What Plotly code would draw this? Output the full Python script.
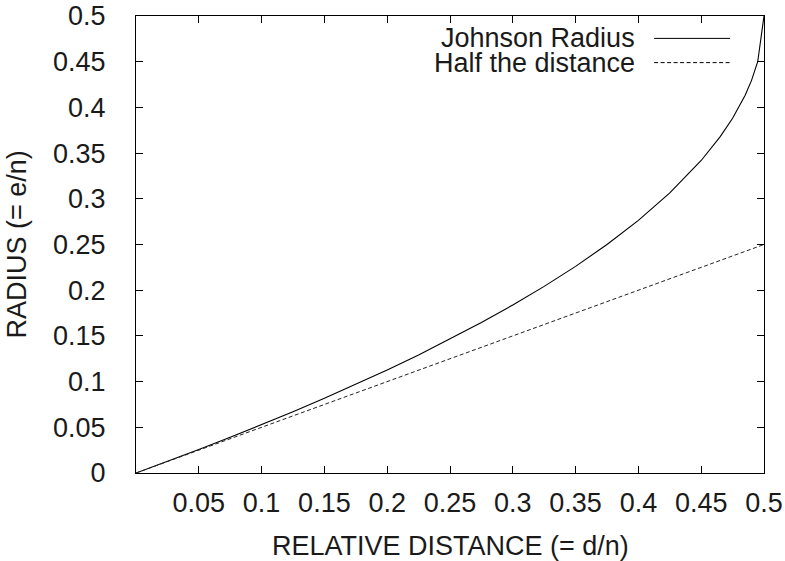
import plotly.graph_objects as go

# Data
rel_distance = [0, 0.025, 0.05, 0.075, 0.1, 0.125, 0.15, 0.175, 0.2, 0.225, 0.25,
                0.275, 0.3, 0.325, 0.35, 0.375, 0.4, 0.425, 0.45, 0.465, 0.475,
                0.485, 0.49, 0.495, 0.5]
johnson_radius = [0, 0.0127, 0.0257, 0.039, 0.0528, 0.067, 0.0817, 0.0969, 0.1127,
                  0.1292, 0.1465, 0.1646, 0.1838, 0.2042, 0.2261, 0.25, 0.2764,
                  0.3064, 0.3419, 0.3677, 0.3882, 0.4134, 0.4293, 0.45, 0.5]
half_x = [0, 0.5]
half_y = [0, 0.25]

x_ticks = [0.05, 0.1, 0.15, 0.2, 0.25, 0.3, 0.35, 0.4, 0.45, 0.5]
x_ticktext = ["0.05", "0.1", "0.15", "0.2", "0.25", "0.3", "0.35", "0.4", "0.45", "0.5"]
y_ticks = [0, 0.05, 0.1, 0.15, 0.2, 0.25, 0.3, 0.35, 0.4, 0.45, 0.5]
y_ticktext = ["0", "0.05", "0.1", "0.15", "0.2", "0.25", "0.3", "0.35", "0.4", "0.45", "0.5"]

series_names = ["Johnson Radius", "Half the distance"]

FONT = "Liberation Sans, Arial, Helvetica, sans-serif"
TXT = "#1a1a1a"
FS = 27

fig = go.Figure()
fig.add_trace(go.Scatter(x=rel_distance, y=johnson_radius, mode="lines",
                         line=dict(color="black", width=1.1), name=series_names[0],
                         showlegend=False))
fig.add_trace(go.Scatter(x=half_x, y=half_y, mode="lines",
                         line=dict(color="#222222", width=1, dash="4px,2.5px"),
                         name=series_names[1], showlegend=False))

axis_common = dict(showline=True, linecolor="black", linewidth=1.2, mirror="ticks",
                   ticks="inside", ticklen=7, tickwidth=1, tickcolor="black",
                   showgrid=False, zeroline=False, automargin=False,
                   tickfont=dict(family=FONT, size=FS, color=TXT))

fig.update_xaxes(range=[0, 0.5], tickmode="array", tickvals=x_ticks, ticktext=x_ticktext,
                 ticklabelstandoff=5, **axis_common)
fig.update_yaxes(range=[0, 0.5], tickmode="array", tickvals=y_ticks, ticktext=y_ticktext,
                 ticklabelstandoff=24, **axis_common)

annotations = [
    dict(text="RELATIVE DISTANCE (= d/n)", xref="paper", yref="paper", x=0.5, y=0,
         xanchor="center", yanchor="middle", yshift=-73, showarrow=False,
         font=dict(family=FONT, size=FS, color=TXT)),
    dict(text="RADIUS (= e/n)", xref="paper", yref="paper", x=0, y=0.5,
         xanchor="center", yanchor="middle", xshift=-120, textangle=-90, showarrow=False,
         font=dict(family=FONT, size=FS, color=TXT)),
]
legend_y = [0.951, 0.898]
legend_dash = ["solid", "4px,2.5px"]
shapes = []
for name, ly, dsh in zip(series_names, legend_y, legend_dash):
    annotations.append(dict(text=name, xref="paper", yref="paper", x=0.797, y=ly,
                            xanchor="right", yanchor="middle", showarrow=False,
                            font=dict(family=FONT, size=FS, color=TXT)))
    shapes.append(dict(type="line", xref="paper", yref="paper", x0=0.825, x1=0.946,
                       y0=ly, y1=ly, line=dict(color="black", width=1, dash=dsh)))

fig.update_layout(width=785, height=561, margin=dict(l=136, r=21, t=16, b=88, autoexpand=False),
                  paper_bgcolor="white", plot_bgcolor="white",
                  annotations=annotations, shapes=shapes, showlegend=False,
                  font=dict(family=FONT, size=FS, color=TXT))

fig.write_html("out.html", config={"displayModeBar": False},
               post_script="document.body.style.margin='0';document.body.style.padding='0';")
